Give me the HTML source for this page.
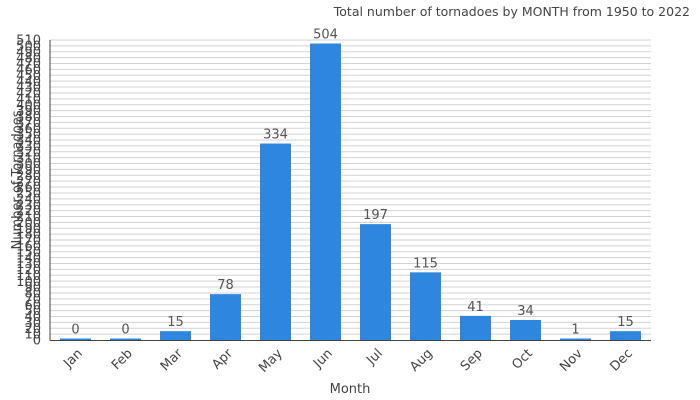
<!DOCTYPE html>
<html><head><meta charset="utf-8"><style>
html,body{margin:0;padding:0;background:#fff;}
svg{display:block;font-family:"DejaVu Sans","Liberation Sans",sans-serif;}
</style></head><body>
<svg width="700" height="400" viewBox="0 0 700 400" xmlns="http://www.w3.org/2000/svg">
<text x="690" y="16" text-anchor="end" font-size="12.5" fill="#444">Total number of tornadoes by MONTH from 1950 to 2022</text>
<g id="grid" stroke="#d3d3d3" stroke-width="1"></g>
<g id="ticks" font-size="13" fill="#444" text-anchor="end"></g>
<g id="bars"></g>
<line x1="50" y1="40" x2="50" y2="340.5" stroke="#444" stroke-width="1"/>
<line x1="50" y1="340.5" x2="651" y2="340.5" stroke="#444" stroke-width="1"/>
<g id="xl" font-size="13" fill="#444"></g>
<text x="350" y="393" text-anchor="middle" font-size="13" fill="#444">Month</text>
<text transform="translate(21,180) rotate(-90)" text-anchor="middle" font-size="13" fill="#444">Number of Tornadoes</text>
</svg>
<script>
var ns="http://www.w3.org/2000/svg";
function el(t,a,p,txt){var e=document.createElementNS(ns,t);for(var k in a)e.setAttribute(k,a[k]);if(txt!==undefined)e.textContent=txt;document.getElementById(p).appendChild(e);return e;}
for(var k=0;k<=51;k++){var y=340-k*300/51;
 if(k>0)el("line",{x1:50,x2:651,y1:y.toFixed(2),y2:y.toFixed(2)},"grid");
 el("text",{x:41,y:(y+4.6).toFixed(2)},"ticks",String(k*10));}
var m=["Jan","Feb","Mar","Apr","May","Jun","Jul","Aug","Sep","Oct","Nov","Dec"];
var v=[0,0,15,78,334,504,197,115,41,34,1,15];
for(var i=0;i<12;i++){var h=Math.max(v[i]*300/510,1.5);var x=60+50*i;
 el("rect",{x:x,y:340-h,width:31,height:h,fill:"#2e86de"},"bars");
 var ty=340-h-5;
 el("text",{x:x+15.5,y:ty,"text-anchor":"middle","font-size":"13",fill:"#555"},"bars",String(v[i]));
 el("text",{x:0,y:0,"text-anchor":"end",transform:"translate("+(x+23)+",354) rotate(-45)"},"xl",m[i]);}
</script>
</body></html>
